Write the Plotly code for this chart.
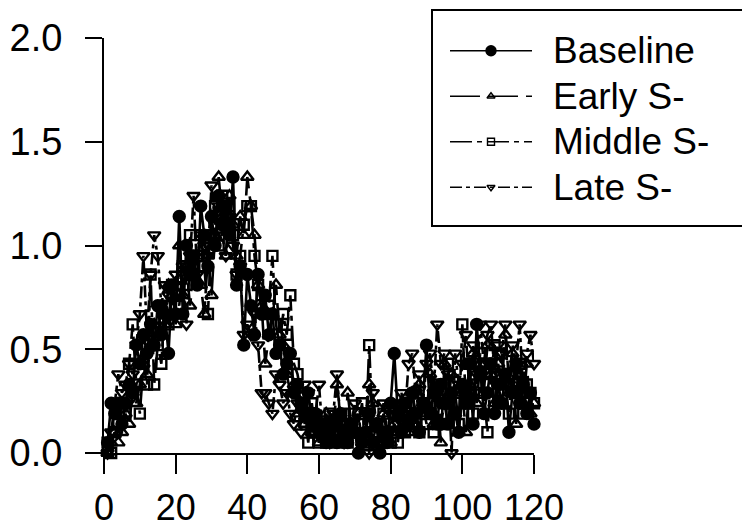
import plotly.graph_objects as go

# Time bins (x) shared by every condition
x_vals = list(range(1, 121))

baseline = [
    0.05, 0.24, 0.19, 0.24, 0.14, 0.24, 0.33, 0.29, 0.52, 0.43,
    0.57, 0.48, 0.62, 0.52, 0.71, 0.57, 0.67, 0.48, 0.81, 0.67,
    1.14, 0.67, 1.00, 0.86, 0.95, 0.81, 1.19, 1.05, 0.90, 1.14,
    1.00, 1.24, 1.10, 1.19, 1.05, 1.33, 0.81, 0.90, 0.52, 0.86,
    0.71, 0.57, 0.86, 0.67, 0.76, 0.57, 0.67, 0.48, 0.52, 0.38,
    0.43, 0.48, 0.29, 0.33, 0.24, 0.19, 0.29, 0.14, 0.19, 0.10,
    0.14, 0.05, 0.10, 0.14, 0.05, 0.19, 0.10, 0.05, 0.14, 0.10,
    0.00, 0.05, 0.10, 0.19, 0.05, 0.14, 0.00, 0.10, 0.05, 0.24,
    0.48, 0.19, 0.10, 0.24, 0.14, 0.29, 0.19, 0.10, 0.24, 0.52,
    0.19, 0.29, 0.14, 0.33, 0.24, 0.14, 0.29, 0.19, 0.10, 0.33,
    0.24, 0.43, 0.14, 0.62, 0.38, 0.19, 0.29, 0.43, 0.19, 0.33,
    0.24, 0.38, 0.10, 0.29, 0.43, 0.24, 0.33, 0.19, 0.29, 0.14,
]

early_s = [
    0.00, 0.05, 0.10, 0.05, 0.10, 0.19, 0.14, 0.29, 0.24, 0.33,
    0.43, 0.38, 0.52, 0.62, 0.57, 0.71, 0.62, 0.81, 0.76, 0.62,
    1.00, 0.76, 0.90, 0.71, 0.86, 0.95, 0.81, 0.67, 0.95, 0.76,
    1.05, 1.33, 1.14, 0.95, 1.24, 1.10, 0.95, 1.14, 1.05, 1.33,
    1.19, 1.05, 0.81, 0.71, 0.43, 0.57, 0.67, 0.81, 0.57, 0.52,
    0.38, 0.29, 0.33, 0.19, 0.24, 0.14, 0.19, 0.10, 0.14, 0.05,
    0.10, 0.19, 0.14, 0.10, 0.33, 0.19, 0.05, 0.29, 0.14, 0.10,
    0.19, 0.05, 0.10, 0.33, 0.24, 0.14, 0.05, 0.19, 0.10, 0.05,
    0.14, 0.10, 0.24, 0.19, 0.10, 0.29, 0.14, 0.33, 0.24, 0.19,
    0.38, 0.14, 0.29, 0.05, 0.43, 0.24, 0.38, 0.19, 0.10, 0.29,
    0.10, 0.33, 0.48, 0.24, 0.43, 0.29, 0.52, 0.38, 0.24, 0.43,
    0.33, 0.57, 0.29, 0.48, 0.14, 0.38, 0.24, 0.43, 0.19, 0.24,
]

middle_s = [
    0.05, 0.00, 0.10, 0.14, 0.24, 0.19, 0.43, 0.62, 0.33, 0.19,
    0.43, 0.33, 0.86, 0.33, 0.52, 0.43, 0.71, 0.62, 0.81, 0.76,
    0.71, 0.90, 0.81, 1.05, 0.86, 0.95, 1.05, 0.90, 0.67, 1.05,
    1.19, 1.00, 1.24, 1.10, 1.19, 1.05, 0.86, 0.95, 1.10, 1.19,
    1.19, 0.95, 0.81, 0.76, 0.67, 0.71, 0.95, 0.62, 0.52, 0.67,
    0.57, 0.76, 0.43, 0.38, 0.29, 0.19, 0.05, 0.24, 0.10, 0.05,
    0.14, 0.05, 0.19, 0.10, 0.05, 0.14, 0.19, 0.05, 0.10, 0.19,
    0.14, 0.24, 0.05, 0.52, 0.10, 0.14, 0.05, 0.19, 0.10, 0.05,
    0.14, 0.05, 0.19, 0.10, 0.24, 0.14, 0.19, 0.10, 0.24, 0.14,
    0.24, 0.10, 0.33, 0.14, 0.24, 0.43, 0.19, 0.29, 0.14, 0.62,
    0.24, 0.43, 0.19, 0.33, 0.48, 0.29, 0.10, 0.38, 0.52, 0.24,
    0.48, 0.33, 0.19, 0.38, 0.29, 0.43, 0.19, 0.33, 0.29, 0.24,
]

late_s = [
    0.00, 0.10, 0.24, 0.38, 0.29, 0.33, 0.43, 0.38, 0.52, 0.67,
    0.95, 0.57, 0.86, 1.05, 0.95, 0.71, 0.81, 0.76, 0.67, 0.86,
    0.81, 0.90, 0.62, 0.95, 1.24, 0.86, 1.05, 1.00, 0.95, 1.29,
    1.10, 1.19, 1.05, 0.95, 1.14, 1.00, 0.86, 0.90, 0.57, 0.62,
    0.57, 0.67, 0.52, 0.29, 0.29, 0.24, 0.19, 0.38, 0.33, 0.24,
    0.29, 0.19, 0.14, 0.24, 0.10, 0.33, 0.29, 0.14, 0.19, 0.33,
    0.10, 0.14, 0.05, 0.19, 0.38, 0.14, 0.05, 0.10, 0.14, 0.24,
    0.10, 0.05, 0.19, 0.00, 0.29, 0.14, 0.05, 0.24, 0.10, 0.19,
    0.24, 0.14, 0.29, 0.19, 0.43, 0.48, 0.29, 0.38, 0.24, 0.43,
    0.48, 0.29, 0.62, 0.43, 0.48, 0.38, 0.00, 0.48, 0.33, 0.43,
    0.57, 0.29, 0.52, 0.38, 0.62, 0.43, 0.57, 0.62, 0.38, 0.52,
    0.48, 0.62, 0.33, 0.52, 0.43, 0.62, 0.29, 0.48, 0.57, 0.43,
]

series_names = ["Baseline", "Early S-", "Middle S-", "Late S-"]
series_values = [baseline, early_s, middle_s, late_s]
symbols = ["circle", "triangle-up-open", "square-open", "triangle-down-open"]
dashes = ["solid", "30px,8px", "22px,5px,5px,5px", "12px,4px,4px,4px"]
x_ticks = [0, 20, 40, 60, 80, 100, 120]
y_ticks = [0.0, 0.5, 1.0, 1.5, 2.0]
y_ticklabels = ["0.0", "0.5", "1.0", "1.5", "2.0"]

W, H = 742, 531
FONT = "Liberation Sans, Arial, Helvetica, sans-serif"

fig = go.Figure()

# data traces
for name, vals, sym, dash in zip(series_names, series_values, symbols, dashes):
    fig.add_trace(go.Scatter(
        x=x_vals, y=vals, mode="lines+markers", name=name,
        line=dict(color="black", width=2.6, dash=dash),
        marker=dict(symbol=sym, size=11 if sym != "square-open" else 10,
                    color="black", line=dict(color="black", width=2.4)),
        cliponaxis=False, showlegend=False,
        xaxis="x", yaxis="y",
    ))

# key samples drawn on a small helper axis pair
for i, (name, sym, dash) in enumerate(zip(series_names, symbols, dashes)):
    row = i + 1
    fig.add_trace(go.Scatter(
        x=[0, 1], y=[row, row], mode="lines",
        line=dict(color="black", width=1.5, dash=dash),
        showlegend=False, hoverinfo="skip", xaxis="x2", yaxis="y2",
    ))
    fig.add_trace(go.Scatter(
        x=[0.5], y=[row], mode="markers",
        marker=dict(symbol=sym, size=10 if sym == "circle" else 7,
                    color="black", line=dict(color="black", width=1.4)),
        showlegend=False, hoverinfo="skip", xaxis="x2", yaxis="y2",
    ))
    fig.add_annotation(
        x=1, y=row, xref="x2", yref="y2", text=name, showarrow=False,
        xanchor="left", yanchor="middle", xshift=19,
        font=dict(family=FONT, size=37, color="black"),
    )

# key frame
fig.add_shape(type="rect", xref="paper", yref="paper",
              x0=432 / W, x1=1.02, y0=1 - 226 / H, y1=1 - 10 / H,
              line=dict(color="black", width=2))

fig.update_layout(
    width=W, height=H,
    margin=dict(l=0, r=0, t=0, b=0, autoexpand=False),
    paper_bgcolor="white", plot_bgcolor="white",
    font=dict(family=FONT, color="black"),
    xaxis=dict(
        domain=[104 / W, 534 / W], range=[0, 120],
        tickvals=x_ticks, ticktext=[str(v) for v in x_ticks],
        showline=True, linecolor="black", linewidth=2,
        ticks="outside", ticklen=19, tickwidth=2, tickcolor="black",
        showgrid=False, zeroline=False,
        tickfont=dict(size=36), ticklabelstandoff=3,
        anchor="y", automargin=False,
    ),
    yaxis=dict(
        domain=[1 - 453 / H, 1 - 38 / H], range=[0, 2],
        tickvals=y_ticks, ticktext=y_ticklabels,
        showline=True, linecolor="black", linewidth=2,
        ticks="outside", ticklen=17, tickwidth=2, tickcolor="black",
        showgrid=False, zeroline=False,
        tickfont=dict(size=38), ticklabelstandoff=15,
        anchor="x", automargin=False,
    ),
    xaxis2=dict(domain=[450 / W, 532 / W], range=[0, 1], visible=False,
                anchor="y2", fixedrange=True),
    yaxis2=dict(domain=[1 - 210 / H, 1 - 28 / H], range=[4.5, 0.5],
                visible=False, anchor="x2", fixedrange=True),
)

fig.write_html("out.html")
